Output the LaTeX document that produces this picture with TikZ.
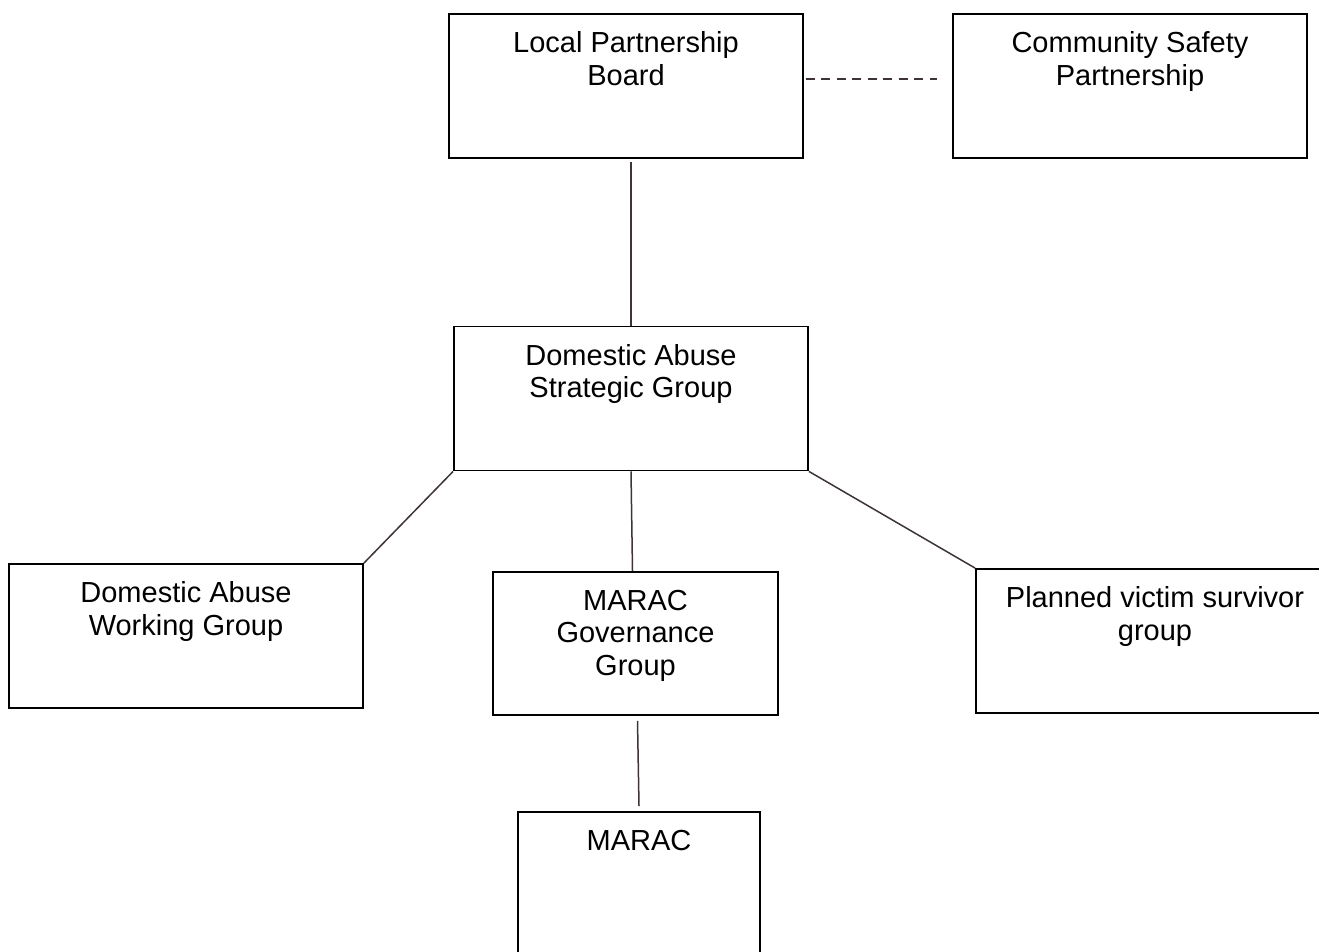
\documentclass[tikz,border=0pt]{standalone}
\usepackage{fontspec}
\setmainfont{Liberation Sans}
\definecolor{connclr}{RGB}{62,52,52}
\tikzset{
  orgbox/.style={draw=black, line width=1.8pt, rectangle, inner sep=0pt, minimum height=144pt},
  orgtxt/.style={anchor=north, inner sep=0pt, align=center, font=\fontsize{29}{32.5}\selectfont, yshift=-18.5pt},
  conn/.style={draw=connclr, line width=1.5pt},
  dashconn/.style={draw=connclr, line width=1.5pt, dash pattern=on 9pt off 6.5pt}
}
\begin{document}
\begin{tikzpicture}[x=1pt,y=-1pt]
\useasboundingbox[fill=white] (0,0) rectangle (1319,951);
% boxes
\node[orgbox, minimum width=354pt] (lpb) at (626,86) {};
\node[orgbox, minimum width=354pt] (csp) at (1130,86) {};
\node[orgbox, minimum width=354pt] (dasg) at (631,398.5) {};
\node[orgbox, minimum width=354pt] (dawg) at (186,636) {};
\node[orgbox, minimum width=285pt, minimum height=143pt] (mgg) at (635.5,643.5) {};
\node[orgbox, minimum width=358pt] (pvsg) at (1155,641) {};
\node[orgbox, minimum width=242pt] (marac) at (639,884) {};
% texts
\node[orgtxt] (lpbt) at (lpb.north) {Local Partnership\\Board};
\node[orgtxt] (cspt) at (csp.north) {Community Safety\\Partnership};
\node[orgtxt] (dasgt) at (dasg.north) {Domestic Abuse\\Strategic Group};
\node[orgtxt] (dawgt) at (dawg.north) {Domestic Abuse\\Working Group};
\node[orgtxt] (mggt) at (mgg.north) {MARAC\\Governance\\Group};
\node[orgtxt] (pvsgt) at (pvsg.north) {Planned victim survivor\\group};
\node[orgtxt] (maract) at (marac.north) {MARAC};
% connectors
\draw[dashconn] ([xshift=2pt,yshift=7pt]lpb.east) -- ([xshift=-15pt,yshift=7pt]csp.west);
\draw[conn] ([xshift=5pt,yshift=-3pt]lpb.south) -- (dasg.north);
\draw[conn] (dasg.south west) -- (dawg.north east);
\draw[conn] (dasg.south) -- ([xshift=-3pt]mgg.north);
\draw[conn] (dasg.south east) -- (pvsg.north west);
\draw[conn] ([xshift=2pt,yshift=-5pt]mgg.south) -- ([yshift=5pt]marac.north);
\end{tikzpicture}
\end{document}
